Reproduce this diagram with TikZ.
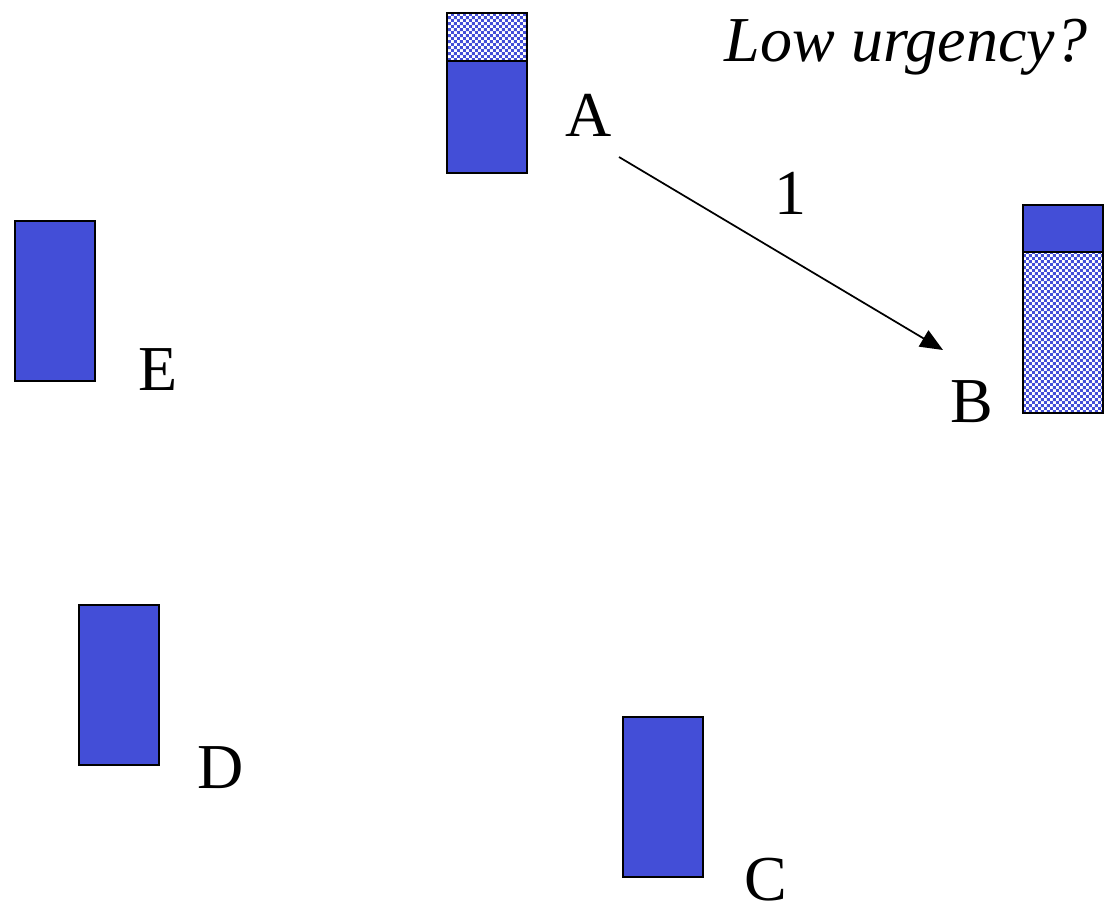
\documentclass[tikz,border=0pt]{standalone}
\usepackage{fontspec}
\setmainfont{Liberation Serif}
\usetikzlibrary{arrows.meta,patterns.meta}
\definecolor{boxblue}{RGB}{67,78,215}
\pgfdeclarepattern{name=mycheck, parameters={}, bottom left={\pgfpoint{0pt}{0pt}}, top right={\pgfpoint{4.4pt}{4.4pt}}, tile size={\pgfpoint{4.4pt}{4.4pt}}, tile transformation={}, code={\pgfpathrectangle{\pgfpointorigin}{\pgfpoint{2.2pt}{2.2pt}}\pgfpathrectangle{\pgfpoint{2.2pt}{2.2pt}}{\pgfpoint{2.2pt}{2.2pt}}\pgfusepath{fill}}}
\tikzset{
  solidbox/.style={draw=black, line width=1.4pt, fill=boxblue},
  checkbox/.style={draw=black, line width=1.4pt, pattern=mycheck, pattern color=boxblue},
  lab/.style={font=\fontsize{48}{50}\selectfont, inner sep=0pt},
  conn/.style={line width=1.3pt, -{Triangle[length=17pt,width=14pt]}}
}
\begin{document}
\begin{tikzpicture}[x=0.75pt,y=-0.75pt]
\useasboundingbox (0,0) rectangle (1113,914);
% A
\node[checkbox, minimum width=60pt, minimum height=36pt, anchor=north west] (Atop) at (446,12) {};
\node[solidbox, minimum width=60pt, minimum height=84pt, anchor=north west] (A) at (446,60) {};
% B
\node[solidbox, minimum width=60pt, minimum height=35.25pt, anchor=north west] (B) at (1022,204) {};
\node[checkbox, minimum width=60pt, minimum height=120.75pt, anchor=north west] (Bbot) at (1022,251) {};
% E, D, C
\node[solidbox, minimum width=60pt, minimum height=120pt, anchor=north west] (E) at (14,220) {};
\node[solidbox, minimum width=60pt, minimum height=120pt, anchor=north west] (D) at (78,604) {};
\node[solidbox, minimum width=60pt, minimum height=120pt, anchor=north west] (C) at (622,716) {};
% labels
\node[lab] (labA) at (589,115) {A};
\node[lab] (labB) at (972,402) {B};
\node[lab] (labE) at (158,370) {E};
\node[lab] (labD) at (221,768) {D};
\node[lab] (labC) at (766,880) {C};
\node[lab] (lab1) at (790,193) {1};
\node[lab, font=\fontsize{48}{50}\selectfont\itshape] (title) at (906,47) {Low urgency?};
% arrow
\coordinate (a1) at (619,157);
\coordinate (b1) at (943,350);
\draw[conn] (a1) -- (b1);
\end{tikzpicture}
\end{document}
